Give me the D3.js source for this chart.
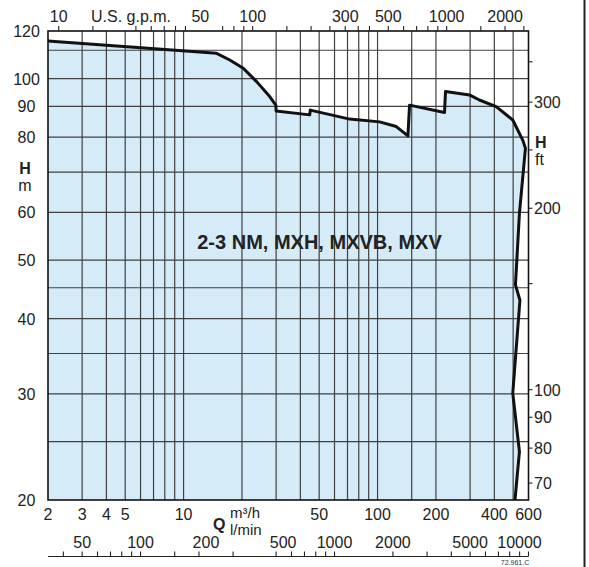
<!DOCTYPE html>
<html><head><meta charset="utf-8">
<script src="https://cdn.jsdelivr.net/npm/d3@7"></script>
<style>
html,body{margin:0;padding:0;background:#fff;}
svg{display:block;font-family:"Liberation Sans",Arial,Helvetica,sans-serif;}
</style></head>
<body>
<svg id="chart" width="589" height="567"></svg>
<script>
// ---- data ----
const curveQ = [2, 14.8, 17.3, 20.3, 23.8, 27.8, 29.9, 30.0, 44.7, 45.0, 71.8, 102.5, 124.9, 143.4, 146.2, 221.4, 224, 297.8, 335, 408.8, 497.8, 560.4, 578.6, 538.8, 514, 542, 497.8, 538.8, 511];
const curveH = [115.5, 110.2, 107.4, 104.1, 98.9, 93.4, 90.4, 88.4, 87.1, 88.7, 85.7, 84.8, 83.3, 80.4, 90.4, 87.9, 95.2, 94.0, 92.2, 89.9, 85.4, 79.1, 76.7, 59.8, 45.5, 42.9, 30.07, 24.05, 20];
const gridQ = [3, 4, 5, 6, 7, 8, 9, 10, 20, 30, 40, 50, 60, 70, 80, 90, 100, 150, 200, 300, 400, 500];
const gridH = [111.5, 100, 90, 80, 70, 60, 50, 45, 40, 35, 30, 25];
const leftLabels = [120, 100, 90, 80, 60, 50, 40, 30, 20];
const bottomLabels = [2, 3, 4, 5, 10, 50, 100, 200, 400, 600];
const lminTicks = [40, 50, 60, 70, 80, 90, 100, 150, 200, 300, 500, 600, 700, 800, 900, 1000, 2000, 3000, 4000, 5000, 6000, 7000, 8000, 9000, 10000];
const lminLabels = [50, 100, 200, 500, 1000, 2000, 5000, 10000];
const gpmTicks = [10, 15, 25, 30, 35, 40, 45, 70, 80, 90, 100, 150, 200, 250, 300, 350, 400, 500, 600, 700, 800, 900, 1000, 1500, 2000, 2500];
const gpmLabels = [10, 50, 100, 300, 500, 1000, 2000];
const ftTicks = [350, 300, 250, 200, 150, 100, 90, 80, 70];
const ftLabels = [300, 200, 100, 90, 80, 70];
const title = "2-3 NM, MXH, MXVB, MXV";
const M3H_PER_LMIN = 0.06, M3H_PER_GPM = 0.22712, M_PER_FT = 0.3048;

// ---- scales ----
const x = d3.scaleLog().domain([2, 600]).range([48, 528.5]);
const y = d3.scaleLog().domain([20, 120]).range([500, 31]);
const svg = d3.select("#chart");
const FONT = 16;

// fill area
const pts = curveQ.map((q, i) => [q, curveH[i]]);
const areaPts = pts.concat([[2, 20]]);
svg.append("path")
  .attr("d", d3.line().x(d => x(d[0])).y(d => y(d[1]))(areaPts) + "Z")
  .attr("fill", "#d5ebf8");

// grid
const g = svg.append("g").attr("stroke", "#404040").attr("stroke-width", 1.2);
gridQ.forEach(q => g.append("line").attr("x1", x(q)).attr("x2", x(q)).attr("y1", y(120)).attr("y2", y(20)));
gridH.forEach(h => g.append("line").attr("y1", y(h)).attr("y2", y(h)).attr("x1", x(2)).attr("x2", x(600)));

// curve
svg.append("path")
  .attr("d", d3.line().x(d => x(d[0])).y(d => y(d[1]))(pts))
  .attr("fill", "none").attr("stroke", "#111").attr("stroke-width", 3).attr("stroke-linejoin", "round");

// border
svg.append("rect").attr("x", x(2)).attr("y", y(120)).attr("width", x(600) - x(2)).attr("height", y(20) - y(120))
  .attr("fill", "none").attr("stroke", "#111").attr("stroke-width", 1.6);

// left labels
leftLabels.forEach(v => svg.append("text").attr("x", 26.5).attr("y", y(v) + 6).attr("text-anchor", "middle")
  .attr("font-size", FONT).attr("fill", "#222").text(v));
svg.append("text").attr("x", 25).attr("y", 174).attr("text-anchor", "middle").attr("font-size", FONT).attr("font-weight", "bold").attr("fill", "#222").text("H");
svg.append("text").attr("x", 25).attr("y", 191).attr("text-anchor", "middle").attr("font-size", FONT).attr("fill", "#222").text("m");

// bottom m3/h labels
bottomLabels.forEach(v => svg.append("text").attr("x", x(v)).attr("y", 520).attr("text-anchor", "middle")
  .attr("font-size", FONT).attr("fill", "#222").text(v));
svg.append("text").attr("x", 213).attr("y", 530).attr("font-size", FONT).attr("font-weight", "bold").attr("fill", "#222").text("Q");
svg.append("text").attr("x", 230).attr("y", 518).attr("font-size", 15).attr("fill", "#222").text("m³/h");
svg.append("text").attr("x", 230).attr("y", 535).attr("font-size", 15).attr("fill", "#222").text("l/min");

// l/min axis
const lminAxisY = 556.5;
svg.append("line").attr("x1", x(2)).attr("x2", x(600)).attr("y1", lminAxisY).attr("y2", lminAxisY).attr("stroke", "#222").attr("stroke-width", 1.2);
lminTicks.forEach(v => svg.append("line").attr("x1", x(v * M3H_PER_LMIN)).attr("x2", x(v * M3H_PER_LMIN))
  .attr("y1", lminAxisY).attr("y2", lminAxisY - 5).attr("stroke", "#222").attr("stroke-width", 1.1));
const lminShift = {200: 7, 500: 7, 10000: -9};
lminLabels.forEach(v => svg.append("text").attr("x", x(v * M3H_PER_LMIN) + (lminShift[v] || 0)).attr("y", 548)
  .attr("text-anchor", "middle").attr("font-size", FONT).attr("fill", "#222").text(v));
svg.append("text").attr("x", 515).attr("y", 564.5).attr("text-anchor", "middle").attr("font-size", 7).attr("fill", "#333").text("72.961.C");

// top gpm axis
gpmTicks.forEach(v => svg.append("line").attr("x1", x(v * M3H_PER_GPM)).attr("x2", x(v * M3H_PER_GPM))
  .attr("y1", y(120)).attr("y2", y(120) - 5).attr("stroke", "#222").attr("stroke-width", 1.1));
const gpmShift = {50: 6};
gpmLabels.forEach(v => svg.append("text").attr("x", x(v * M3H_PER_GPM) + (gpmShift[v] || 0)).attr("y", 21.5)
  .attr("text-anchor", "middle").attr("font-size", FONT).attr("fill", "#222").text(v));
svg.append("text").attr("x", 131).attr("y", 21.5).attr("text-anchor", "middle").attr("font-size", FONT).attr("fill", "#222").text("U.S. g.p.m.");

// right ft axis
ftTicks.forEach(v => svg.append("line").attr("x1", x(600)).attr("x2", x(600) + 4)
  .attr("y1", y(v * M_PER_FT)).attr("y2", y(v * M_PER_FT)).attr("stroke", "#222").attr("stroke-width", 1.1));
ftLabels.forEach(v => svg.append("text").attr("x", 534).attr("y", y(v * M_PER_FT) + 6)
  .attr("font-size", FONT).attr("fill", "#222").text(v));
svg.append("text").attr("x", 535).attr("y", 148).attr("font-size", FONT).attr("font-weight", "bold").attr("fill", "#222").text("H");
svg.append("text").attr("x", 535).attr("y", 165).attr("font-size", FONT).attr("fill", "#222").text("ft");

// right frame line
svg.append("line").attr("x1", 584.5).attr("x2", 584.5).attr("y1", 0).attr("y2", 567).attr("stroke", "#222").attr("stroke-width", 2);

// title
svg.append("text").attr("x", 319.5).attr("y", 249).attr("text-anchor", "middle").attr("font-size", 20)
  .attr("font-weight", "bold").attr("fill", "#222").text(title);
</script>
</body></html>
